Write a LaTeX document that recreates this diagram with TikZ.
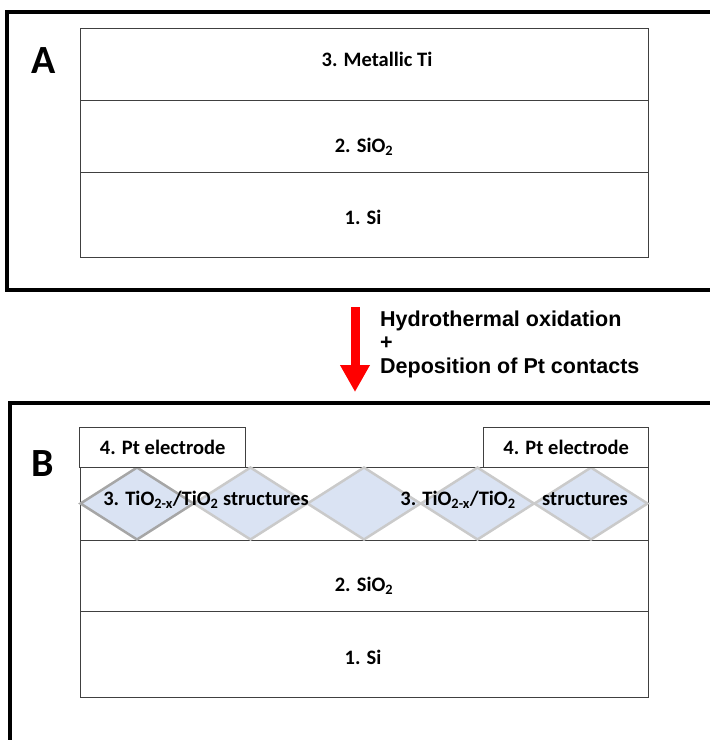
\documentclass[tikz,border=0pt]{standalone}
\usepackage{fontspec}
\setmainfont{Carlito}
\newfontfamily\arialfont{Liberation Sans}
\usepackage{xcolor}
\usetikzlibrary{shapes.geometric,arrows.meta,positioning}
\definecolor{layerline}{HTML}{404040}
\definecolor{grainfill}{HTML}{DAE3F3}
\definecolor{grainline}{HTML}{CACACA}
\definecolor{graindark}{HTML}{A6A6A6}

\begin{document}
\begin{tikzpicture}[x=1pt,y=-1pt,
    frame/.style={draw=black, line width=3.5pt},
    layer/.style={draw=layerline, line width=1.3pt, rectangle, inner sep=0pt, minimum width=568pt, anchor=north west},
    grain/.style={diamond, draw=grainline, fill=grainfill, line width=2.5pt, inner sep=0pt, minimum width=114pt, minimum height=73pt},
    txt/.style={font=\bfseries\fontsize{20.5}{24}\selectfont},
    lbl/.style={txt, inner sep=0pt, anchor=base},
    panel/.style={font=\bfseries\fontsize{40}{40}\selectfont, inner sep=0pt, anchor=base},
    note/.style={font=\arialfont\bfseries\fontsize{21.5}{24}\selectfont, inner sep=0pt, anchor=base west}]
	\useasboundingbox (0,0) rectangle (710,740);
	
	% Panneau A
	\draw[frame] (7,12) rectangle (730,290);
	\node[panel] (labA) at (44,73) {A};
	\node[layer, minimum height=72pt] (tiA) at (80,28) {};
	\node[layer, minimum height=72pt] (sioA) at (80,100) {};
	\node[layer, minimum height=85pt] (siA) at (80,172) {};
	\node[lbl] (tiAtxt) at (377,66) {3. Metallic Ti};
	\node[lbl] (sioAtxt) at (364,152) {2. SiO\textsubscript{2}};
	\node[lbl] (siAtxt) at (363,224) {1. Si};
	
	% Flèche du procédé
	\coordinate (arrtop) at (355,307);
	\coordinate (arrtip) at (355,392);
	\draw[red, line width=9pt, -{Triangle[width=28pt,length=27pt]}] (arrtop) -- (arrtip);
	\node[note] (hydro) at (380,326) {Hydrothermal oxidation};
	\node[note] (plus) at (380,349.5) {+};
	\node[note] (depo) at (380,373) {Deposition of Pt contacts};
	
	% Panneau B
	\draw[frame] (10,403) rectangle (730,760);
	\node[panel] (labB) at (43,476) {B};
	\node[layer, minimum height=73pt] (tioB) at (80,467) {};
	\node[layer, minimum height=71pt] (sioB) at (80,540) {};
	\node[layer, minimum height=86pt] (siB) at (80,611) {};
	
	% Structures TiO2 en losanges
	\foreach \i in {1,...,4} {
		\node[grain] (grain\i) at (137+113.5*\i,503.5) {};
	}
	\node[grain, draw=graindark] (grain0) at (137,503.5) {};
	
	% Électrodes Pt
	\node[layer, txt, fill=white, minimum width=166pt, minimum height=40pt] (ptL) at (79,427) {4. Pt electrode};
	\node[layer, txt, fill=white, minimum width=165pt, minimum height=40pt] (ptR) at (483,427) {4. Pt electrode};
	
	\node[lbl] (tioBtxt) at (206,505) {3. TiO\textsubscript{2-x}/TiO\textsubscript{2} structures};
	\node[lbl] (tioBtxt2) at (458,505) {3. TiO\textsubscript{2-x}/TiO\textsubscript{2}};
	\node[lbl] (tioBtxt3) at (585,505) {structures};
	\node[lbl] (sioBtxt) at (364,591) {2. SiO\textsubscript{2}};
	\node[lbl] (siBtxt) at (363,664) {1. Si};
\end{tikzpicture}
\end{document}
